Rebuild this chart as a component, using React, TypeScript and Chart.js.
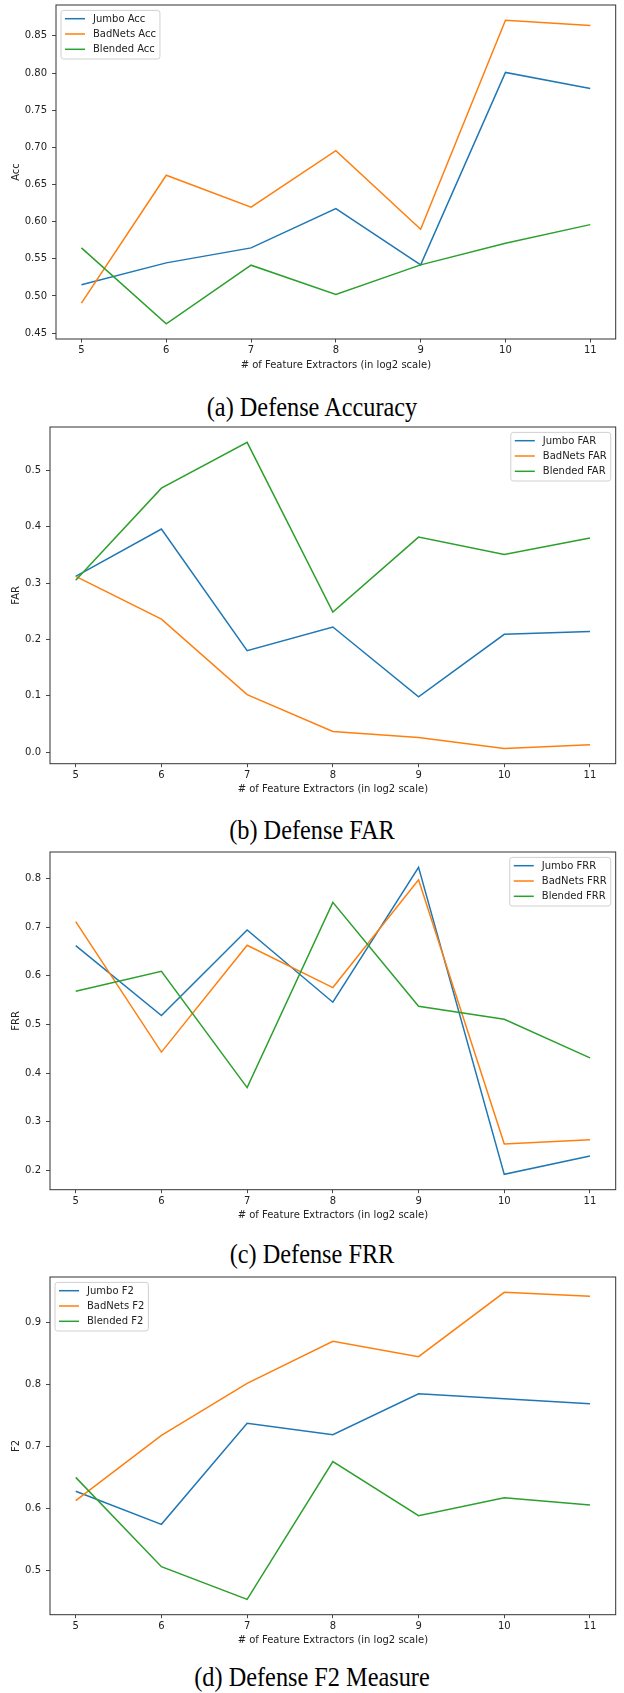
import React, { useEffect, useRef } from 'react';
import { Chart, registerables } from 'chart.js';

Chart.register(...registerables);

// ---------- data ----------
const xValues = [5, 6, 7, 8, 9, 10, 11];
const xAxisTitle = '# of Feature Extractors (in log2 scale)';

const accJumbo = [0.515, 0.5445, 0.5647, 0.6176, 0.5418, 0.8008, 0.7793];
const accBadNets = [0.4903, 0.6624, 0.6194, 0.6955, 0.5898, 0.8711, 0.864];
const accBlended = [0.5647, 0.4625, 0.5414, 0.502, 0.5418, 0.571, 0.596];
const accTicks = [0.45, 0.5, 0.55, 0.6, 0.65, 0.7, 0.75, 0.8, 0.85];

const farJumbo = [0.312, 0.396, 0.18, 0.222, 0.098, 0.209, 0.214];
const farBadNets = [0.312, 0.236, 0.102, 0.0367, 0.026, 0.0065, 0.013];
const farBlended = [0.305, 0.4686, 0.55, 0.2485, 0.3817, 0.351, 0.38];
const farTicks = [0.0, 0.1, 0.2, 0.3, 0.4, 0.5];

const frrJumbo = [0.6618, 0.518, 0.694, 0.5455, 0.8226, 0.1918, 0.2294];
const frrBadNets = [0.711, 0.443, 0.6625, 0.5756, 0.797, 0.254, 0.263];
const frrBlended = [0.568, 0.609, 0.37, 0.7507, 0.5373, 0.5106, 0.4312];
const frrTicks = [0.2, 0.3, 0.4, 0.5, 0.6, 0.7, 0.8];

const f2Jumbo = [0.628, 0.5746, 0.7373, 0.719, 0.785, 0.777, 0.769];
const f2BadNets = [0.6128, 0.718, 0.8017, 0.8694, 0.8447, 0.9483, 0.9419];
const f2Blended = [0.6503, 0.5064, 0.4538, 0.6756, 0.5886, 0.6176, 0.6058];
const f2Ticks = [0.5, 0.6, 0.7, 0.8, 0.9];

const COLORS = ['#1f77b4', '#ff7f0e', '#2ca02c'];
const FONT = { family: '"DejaVu Sans", sans-serif', size: 10 };
const TEXT = '#222';

type PanelCfg = {
  yTitle: string;
  names: string[];
  series: number[][];
  ticks: number[];
  decimals: number;
  legendRight: boolean;
  frameTop: number;
  frameBottom: number;
  frameLeft: number;
  caption: string;
  captionBaseline: number;
};

const FRAME_RIGHT = 615.7;
const X_AXIS_H = 32;

const panels: PanelCfg[] = [
  {
    yTitle: 'Acc', names: ['Jumbo Acc', 'BadNets Acc', 'Blended Acc'],
    series: [accJumbo, accBadNets, accBlended], ticks: accTicks, decimals: 2,
    legendRight: false, frameTop: 5.3, frameBottom: 339.3, frameLeft: 56,
    caption: '(a) Defense Accuracy', captionBaseline: 417,
  },
  {
    yTitle: 'FAR', names: ['Jumbo FAR', 'BadNets FAR', 'Blended FAR'],
    series: [farJumbo, farBadNets, farBlended], ticks: farTicks, decimals: 1,
    legendRight: true, frameTop: 427.3, frameBottom: 764, frameLeft: 50,
    caption: '(b) Defense FAR', captionBaseline: 840,
  },
  {
    yTitle: 'FRR', names: ['Jumbo FRR', 'BadNets FRR', 'Blended FRR'],
    series: [frrJumbo, frrBadNets, frrBlended], ticks: frrTicks, decimals: 1,
    legendRight: true, frameTop: 852.3, frameBottom: 1190, frameLeft: 50,
    caption: '(c) Defense FRR', captionBaseline: 1264,
  },
  {
    yTitle: 'F2', names: ['Jumbo F2', 'BadNets F2', 'Blended F2'],
    series: [f2Jumbo, f2BadNets, f2Blended], ticks: f2Ticks, decimals: 1,
    legendRight: false, frameTop: 1277.3, frameBottom: 1615, frameLeft: 50,
    caption: '(d) Defense F2 Measure', captionBaseline: 1687,
  },
];

const framePlugin = {
  id: 'frameBox',
  afterDatasetsDraw(chart: any) {
    const { ctx, chartArea: a } = chart;
    ctx.save();
    ctx.strokeStyle = '#333';
    ctx.lineWidth = 1;
    ctx.strokeRect(a.left, a.top, a.right - a.left, a.bottom - a.top);
    ctx.restore();
  },
};

function makeLegendPlugin(right: boolean) {
  return {
    id: 'boxLegend',
    afterDraw(chart: any) {
      const { ctx, chartArea: a } = chart;
      const ds = chart.data.datasets;
      ctx.save();
      ctx.font = `10px ${FONT.family}`;
      const tw = Math.max(...ds.map((d: any) => ctx.measureText(d.label).width));
      const w = 4 + 20 + 8 + tw + 4;
      const h = 48.6;
      const x = right ? a.right - 5 - w : a.left + 5;
      const y = a.top + 5.4;
      const r = 2.5;
      ctx.beginPath();
      ctx.moveTo(x + r, y);
      ctx.lineTo(x + w - r, y);
      ctx.quadraticCurveTo(x + w, y, x + w, y + r);
      ctx.lineTo(x + w, y + h - r);
      ctx.quadraticCurveTo(x + w, y + h, x + w - r, y + h);
      ctx.lineTo(x + r, y + h);
      ctx.quadraticCurveTo(x, y + h, x, y + h - r);
      ctx.lineTo(x, y + r);
      ctx.quadraticCurveTo(x, y, x + r, y);
      ctx.closePath();
      ctx.fillStyle = 'rgba(255,255,255,0.8)';
      ctx.fill();
      ctx.strokeStyle = '#d0d0d0';
      ctx.lineWidth = 1;
      ctx.stroke();
      ds.forEach((d: any, i: number) => {
        const cy = y + 8.3 + i * 15.3;
        ctx.beginPath();
        ctx.moveTo(x + 4, cy);
        ctx.lineTo(x + 24, cy);
        ctx.strokeStyle = d.borderColor;
        ctx.lineWidth = 1.5;
        ctx.stroke();
        ctx.fillStyle = TEXT;
        ctx.textBaseline = 'middle';
        ctx.textAlign = 'left';
        ctx.fillText(d.label, x + 32, cy + 0.5);
      });
      ctx.restore();
    },
  };
}

function Panel({ cfg }: { cfg: PanelCfg }) {
  const ref = useRef<HTMLCanvasElement>(null);
  const canvasTop = cfg.frameTop - 12;
  const canvasH = 385;
  useEffect(() => {
    const all = cfg.series.flat();
    const lo = Math.min(...all);
    const hi = Math.max(...all);
    const m = (hi - lo) * 0.05;
    const n = cfg.series.length;
    const chart = new Chart(ref.current as HTMLCanvasElement, {
      type: 'line',
      data: {
        datasets: cfg.series.map((vals, i) => ({
          label: cfg.names[i],
          data: xValues.map((x, j) => ({ x, y: vals[j] })),
          borderColor: COLORS[i],
          backgroundColor: COLORS[i],
          borderWidth: 1.5,
          pointRadius: 0,
          pointHoverRadius: 0,
          tension: 0,
          fill: false,
          order: n - i,
        })),
      },
      options: {
        animation: false,
        responsive: false,
        maintainAspectRatio: false,
        events: [],
        layout: {
          padding: {
            left: 0,
            right: 624 - FRAME_RIGHT,
            top: cfg.frameTop - canvasTop,
            bottom: canvasTop + canvasH - cfg.frameBottom - X_AXIS_H,
          },
        },
        plugins: {
          legend: { display: false },
          tooltip: { enabled: false },
        },
        scales: {
          x: {
            type: 'linear',
            min: 4.7,
            max: 11.3,
            afterBuildTicks: (s: any) => {
              s.ticks = xValues.map((v) => ({ value: v }));
            },
            afterFit: (s: any) => {
              s.height = X_AXIS_H;
            },
            ticks: {
              font: FONT,
              color: TEXT,
              padding: 2,
              autoSkip: false,
              maxRotation: 0,
              callback: (v: any) => String(v),
            },
            grid: {
              drawOnChartArea: false,
              drawTicks: true,
              tickLength: 3.5,
              tickColor: '#333',
              tickWidth: 0.9,
            },
            border: { display: false },
            title: {
              display: true,
              text: xAxisTitle,
              font: FONT,
              color: TEXT,
              padding: 0,
            },
          },
          y: {
            type: 'linear',
            min: lo - m,
            max: hi + m,
            afterBuildTicks: (s: any) => {
              s.ticks = cfg.ticks.map((v) => ({ value: v }));
            },
            afterFit: (s: any) => {
              s.width = cfg.frameLeft;
            },
            ticks: {
              font: FONT,
              color: TEXT,
              padding: 5,
              autoSkip: false,
              callback: (v: any) => Number(v).toFixed(cfg.decimals),
            },
            grid: {
              drawOnChartArea: false,
              drawTicks: true,
              tickLength: 4,
              tickColor: '#333',
              tickWidth: 0.9,
            },
            border: { display: false },
            title: {
              display: true,
              text: cfg.yTitle,
              font: FONT,
              color: TEXT,
              padding: { top: 10, bottom: 0 },
            },
          },
        },
      },
      plugins: [framePlugin, makeLegendPlugin(cfg.legendRight)],
    } as any);
    return () => chart.destroy();
  }, []);

  const capFont = 27;
  return (
    <>
      <canvas
        ref={ref}
        width={624}
        height={canvasH}
        style={{ position: 'absolute', left: 0, top: canvasTop, width: 624, height: canvasH, display: 'block' }}
      />
      <div
        style={{
          position: 'absolute',
          left: 0,
          width: 624,
          top: cfg.captionBaseline - 22.6,
          height: capFont,
          lineHeight: `${capFont}px`,
          fontSize: capFont,
          fontFamily: '"Liberation Serif", "Times New Roman", serif',
          textAlign: 'center',
          color: '#000',
          whiteSpace: 'nowrap',
          transform: 'scaleX(0.9)',
          transformOrigin: '312px 50%',
        }}
      >
        {cfg.caption}
      </div>
    </>
  );
}

export default function App() {
  return (
    <div style={{ position: 'absolute', left: 0, top: 0, width: 624, height: 1693, background: '#fff', overflow: 'hidden' }}>
      {panels.map((p, i) => (
        <Panel key={i} cfg={p} />
      ))}
    </div>
  );
}
